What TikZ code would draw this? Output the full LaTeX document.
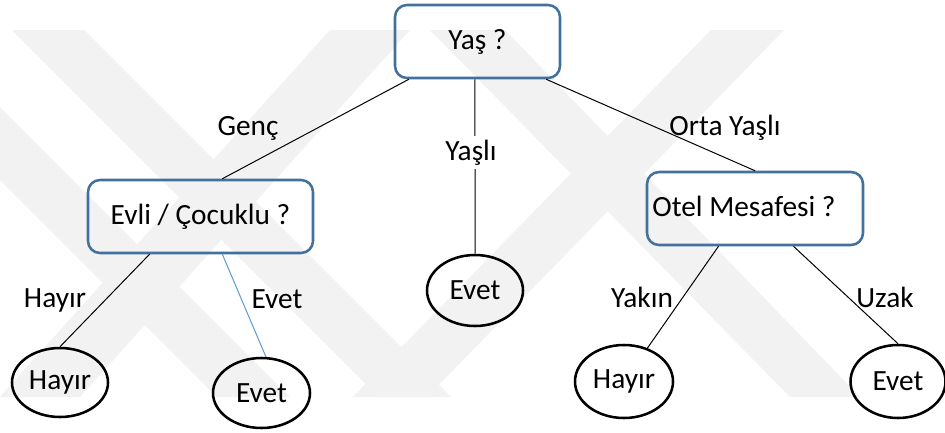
\documentclass[tikz,border=0pt]{standalone}
\usepackage{fontspec}
\setmainfont{Carlito}
\usetikzlibrary{shapes.geometric,calc}
\definecolor{boxblue}{HTML}{41719C}
\definecolor{linkblue}{HTML}{5B9BD5}
\definecolor{wmgray}{HTML}{F2F2F2}
\begin{document}
\begin{tikzpicture}[x=0.75pt,y=-0.75pt,
  txt/.style={font=\fontsize{22}{26}\selectfont},
  question/.style={txt,draw=boxblue,line width=1.9pt,rounded corners=9pt,
    minimum height=54.75pt,inner sep=0pt},
  leaf/.style={txt,draw=black,line width=1.9pt,ellipse,inner sep=0pt},
  branch/.style={line width=0.75pt},
  lbl/.style={txt,anchor=base,inner sep=0pt},
  band/.style={fill=wmgray,draw=none}]
\useasboundingbox (0,0) rectangle (945,432);
\fill[white] (0,0) rectangle (945,432);

% faint background logo bands
\fill[band] (12,30) -- (84,30) -- (451,397) -- (379,397) -- cycle;
\fill[band] (0,107) -- (0,180) -- (217,397) -- (290,397) -- cycle;
\fill[band] (330,30) -- (410,30) -- (80,397) -- (0,397) -- cycle;
\fill[band] (711,30) -- (784,30) -- (427,397) -- (353,397) -- cycle;
\fill[band] (430,30) -- (505,30) -- (860,397) -- (790,397) -- cycle;

% decision nodes
\node[question,minimum width=123.75pt] (root) at (477.5,41.5) {Yaş ?};
\node[question,minimum width=168.75pt] (evli) at (200.5,216.5) {Evli / Çocuklu ?};
\node[question,minimum width=162pt] (otel) at (755,208.5)
  {\raisebox{2.6pt}{Otel Mesafesi ?}\hspace*{16.5pt}};

% leaves
\node[leaf,minimum width=72pt,minimum height=53.25pt] (evetM) at (475,290.5) {Evet};
\node[leaf,minimum width=72pt,minimum height=51.75pt] (hayirL) at (60,382.5) {Hayır};
\node[leaf,minimum width=72.75pt,minimum height=52.5pt] (evetL) at (261.5,393) {Evet};
\node[leaf,minimum width=73.5pt,minimum height=54.75pt] (hayirR) at (624,381.5) {Hayır};
\node[leaf,minimum width=71.25pt,minimum height=54.75pt] (evetR) at (898,381.5) {Evet};

% branches
\draw[branch] ($(root.south west)!0.09!(root.south east)$) -- ($(evli.north west)!0.596!(evli.north east)$);
\draw[branch] ($(root.south west)!0.485!(root.south east)$) -- (evetM.north);
\draw[branch] ($(root.south west)!0.91!(root.south east)$) -- ($(otel.north west)!0.5!(otel.north east)$);
\draw[branch] ($(evli.south west)!0.276!(evli.south east)$) -- (hayirL.north);
\draw[branch,draw=linkblue] ($(evli.south west)!0.596!(evli.south east)$) -- (evetL.83);
\draw[branch] ($(otel.south west)!0.333!(otel.south east)$) -- (hayirR.55);
\draw[branch] ($(otel.south west)!0.676!(otel.south east)$) -- (evetR.north);

% branch labels
\node[lbl] (gencL) at (248,135) {Genç};
\node[lbl,fill=white,inner sep=3pt] (yasliL) at (471,160) {Yaşlı};
\node[lbl] (ortaL) at (725,135) {Orta Yaşlı};
\node[lbl] (hayirLbl) at (55,307) {Hayır};
\node[lbl] (evetLbl) at (277,308) {Evet};
\node[lbl] (yakinL) at (642,307) {Yakın};
\node[lbl] (uzakL) at (885,307) {Uzak};
\end{tikzpicture}
\end{document}
